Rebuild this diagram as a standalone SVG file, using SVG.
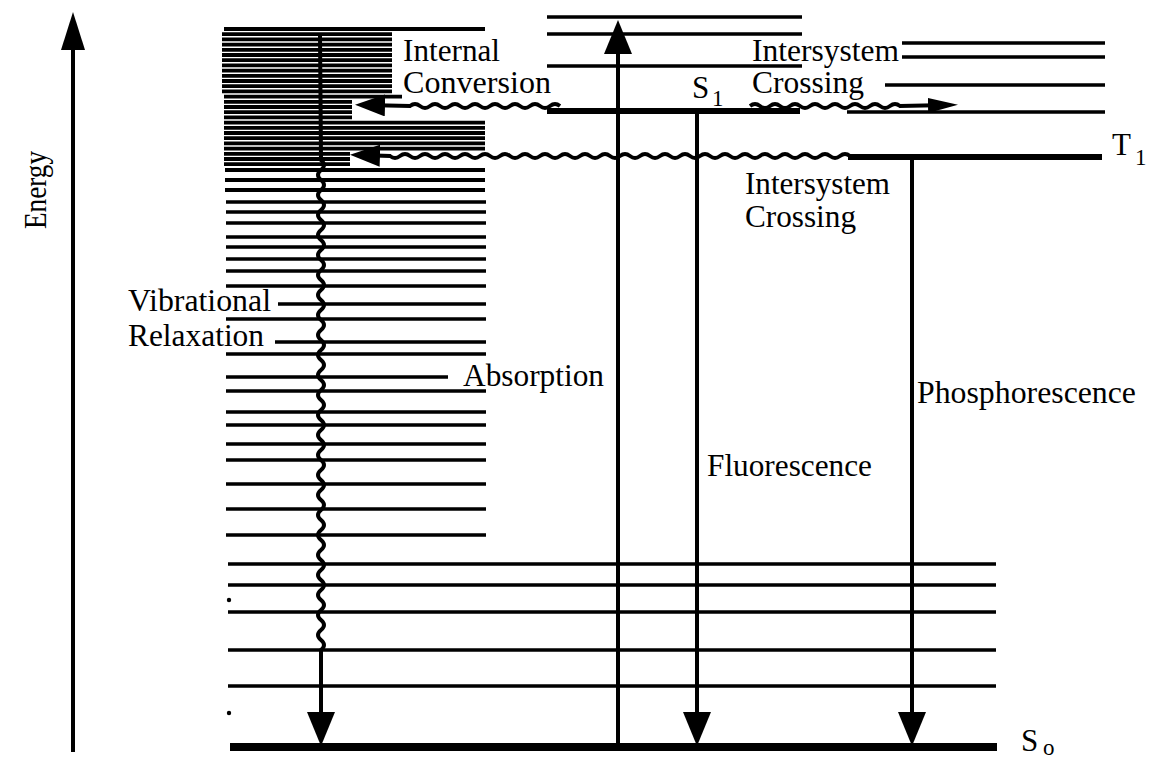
<svg xmlns="http://www.w3.org/2000/svg" width="1150" height="760" viewBox="0 0 1150 760">
<style>
.lv{fill:none;stroke:#000;stroke-width:3.4;stroke-linecap:butt}
.dense{fill:none;stroke:#000;stroke-width:3.8}
.thick{fill:none;stroke:#000;stroke-width:6}
.ar{fill:none;stroke:#000;stroke-width:4}
.wv{fill:none;stroke:#000;stroke-width:3.8}
.t{font-family:"Liberation Serif","Times New Roman",serif;font-size:31px;fill:#000}
.sub{font-family:"Liberation Serif","Times New Roman",serif;font-size:23px;fill:#000}
</style>
<defs>
<marker id="ahv" markerUnits="userSpaceOnUse" markerWidth="34" markerHeight="28" refX="24" refY="14" orient="auto"><path d="M0,0 L34,14 L0,28 Z" fill="#000"/></marker>
<marker id="ahe" markerUnits="userSpaceOnUse" markerWidth="38" markerHeight="24" refX="28" refY="12" orient="auto"><path d="M0,0 L38,12 L0,24 Z" fill="#000"/></marker>
<marker id="ahh" markerUnits="userSpaceOnUse" markerWidth="30" markerHeight="22" refX="20" refY="11" orient="auto"><path d="M0,0 L30,11 L0,22 Z" fill="#000"/></marker>
<marker id="ahs" markerUnits="userSpaceOnUse" markerWidth="30" markerHeight="15" refX="20" refY="7.5" orient="auto"><path d="M0,0 L30,7.5 L0,15 Z" fill="#000"/></marker>
</defs>
<rect width="1150" height="760" fill="#fff"/>

<g id="energy-axis">
<path class="ar" d="M73 752 V22" marker-end="url(#ahe)"/>
<text class="t" font-size="28" transform="translate(46,190) rotate(-90)" text-anchor="middle" textLength="78" lengthAdjust="spacingAndGlyphs">Energy</text>
</g>

<g id="levels-left">
<path class="dense" d="M224 29H485 M222 34.2H392 M222 39.4H392 M222 44.6H392 M222 49.8H392 M222 55H392 M222 60.2H392 M222 65.4H392 M222 70.6H392 M222 75.8H392 M222 81H392 M222 86.2H392 M222 91.4H392 M224 96.6H402 M224 101.8H352 M224 107H352 M224 112.2H352 M224 117.4H352 M224 122.6H485 M224 127.8H485 M224 133H485 M224 138.2H485 M224 143.4H485 M224 148.6H485 M224 153.8H350 M224 159H350 M224 164.2H350 M225 170H485 M225 180H485 M225 190H485"/>
<path class="lv" d="M226 202H486 M226 212H486 M226 223H486 M226 237H486 M226 247H486 M226 259H486 M226 271H486 M226 286H486 M278 304H486 M226 319H486 M275 342H486 M226 354H486 M226 377H448 M226 391H486 M226 412H486 M226 425H486 M226 444H486 M226 460H486 M226 484H486 M226 509H486 M226 535H486"/>
</g>

<g id="levels-s1-upper">
<path class="lv" d="M547 17H802 M547 34H802 M547 66H802"/>
</g>

<g id="level-s1">
<path class="thick" d="M547 111H800"/>
<text class="t" x="692" y="98" font-size="29">S</text>
<text class="sub" x="712" y="106">1</text>
</g>

<g id="levels-t-upper">
<path class="lv" d="M902 43H1105 M902 57H1105 M885 85H1105 M847 112H1105"/>
</g>

<g id="level-t1">
<path class="thick" d="M848 157H1102"/>
<text class="t" x="1112" y="155">T</text>
<text class="sub" x="1135" y="165">1</text>
</g>

<g id="levels-s0">
<path class="lv" d="M228 564H996 M228 585H996 M228 612H996 M228 650H996 M228 686H996"/>
<path fill="none" stroke="#000" stroke-width="8" d="M230 747H997"/>
<circle cx="229" cy="600" r="2.2" fill="#000"/>
<circle cx="229" cy="713" r="2.2" fill="#000"/>
<text class="t" x="1021" y="751">S</text>
<text class="sub" x="1043" y="755" font-size="20">o</text>
</g>

<g id="labels">
<text class="t" x="403" y="61" textLength="97" lengthAdjust="spacingAndGlyphs">Internal</text>
<text class="t" x="403" y="93" textLength="148" lengthAdjust="spacingAndGlyphs">Conversion</text>
<text class="t" x="752" y="61" textLength="147" lengthAdjust="spacingAndGlyphs">Intersystem</text>
<text class="t" x="752" y="93" textLength="112" lengthAdjust="spacingAndGlyphs">Crossing</text>
<text class="t" x="745" y="194" font-size="29" textLength="145" lengthAdjust="spacingAndGlyphs">Intersystem</text>
<text class="t" x="745" y="227" font-size="29" textLength="111" lengthAdjust="spacingAndGlyphs">Crossing</text>
<text class="t" x="128" y="311" textLength="143" lengthAdjust="spacingAndGlyphs">Vibrational</text>
<text class="t" x="128" y="346" textLength="136" lengthAdjust="spacingAndGlyphs">Relaxation</text>
<text class="t" x="463" y="386" textLength="141" lengthAdjust="spacingAndGlyphs">Absorption</text>
<text class="t" x="707" y="476" textLength="165" lengthAdjust="spacingAndGlyphs">Fluorescence</text>
<text class="t" x="917" y="403" textLength="219" lengthAdjust="spacingAndGlyphs">Phosphorescence</text>
</g>

<g id="connectors">
<path id="absorption" class="ar" d="M618 748 V30" marker-end="url(#ahv)"/>
<path id="fluorescence" class="ar" d="M697 111 V736" marker-end="url(#ahv)"/>
<path id="phosphorescence" class="ar" d="M912 157 V736" marker-end="url(#ahv)"/>
<path id="vibrational-relaxation" class="ar" d="M320 35 L321 160 q6 5 0 10 t0 10 t0 10 t0 10 t0 10 t0 10 t0 10 t0 10 t0 10 t0 10 t0 10 t0 10 t0 10 t0 10 t0 10 t0 10 t0 10 t0 10 t0 10 t0 10 t0 10 t0 10 t0 10 t0 10 t0 10 t0 10 t0 10 t0 10 t0 10 t0 10 t0 10 t0 10 t0 10 t0 10 t0 10 t0 10 t0 10 t0 10 t0 10 t0 10 t0 10 t0 10 t0 10 t0 10 t0 10 t0 10 t0 10 t0 10 t0 10 L321 736" marker-end="url(#ahv)"/>
<path id="internal-conversion" class="wv" d="M560 106 q-5 -4 -10 0 t-10 0 t-10 0 t-10 0 t-10 0 t-10 0 t-10 0 t-10 0 t-10 0 t-10 0 t-10 0 t-10 0 t-10 0 t-10 0 t-10 0 L365 105" marker-end="url(#ahh)"/>
<path id="isc-s1-t" class="wv" d="M750 106 q5 -4 10 0 t10 0 t10 0 t10 0 t10 0 t10 0 t10 0 t10 0 t10 0 t10 0 t10 0 t10 0 t10 0 t10 0 t10 0 L948 105" marker-end="url(#ahs)"/>
<path id="isc-t1-s0" class="wv" d="M850 156 q-5 -4 -10 0 t-10 0 t-10 0 t-10 0 t-10 0 t-10 0 t-10 0 t-10 0 t-10 0 t-10 0 t-10 0 t-10 0 t-10 0 t-10 0 t-10 0 t-10 0 t-10 0 t-10 0 t-10 0 t-10 0 t-10 0 t-10 0 t-10 0 t-10 0 t-10 0 t-10 0 t-10 0 t-10 0 t-10 0 t-10 0 t-10 0 t-10 0 t-10 0 t-10 0 t-10 0 t-10 0 t-10 0 t-10 0 t-10 0 t-10 0 t-10 0 t-10 0 t-10 0 t-10 0 t-10 0 t-10 0 L360 155" marker-end="url(#ahh)"/>
</g>
</svg>
